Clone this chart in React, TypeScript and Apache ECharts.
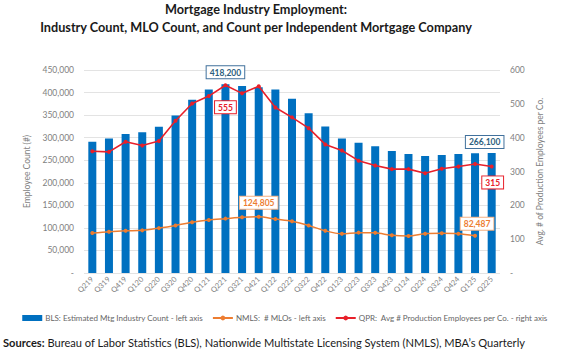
import React, { useEffect, useRef } from "react";
import * as echarts from "echarts";

const quarters = [
  "Q219", "Q319", "Q419", "Q120", "Q220", "Q320", "Q420", "Q121", "Q221", "Q321",
  "Q421", "Q122", "Q222", "Q322", "Q422", "Q123", "Q223", "Q323", "Q423", "Q124",
  "Q224", "Q324", "Q424", "Q125", "Q225",
];

// BLS: Estimated Mtg Industry Count (left axis)
const blsCount = [
  291000, 298000, 308000, 312000, 324000, 349000, 384000, 407000, 418200, 414500,
  411500, 407000, 386000, 354000, 325000, 298000, 289000, 281000, 270500, 264000,
  259500, 261500, 264000, 265500, 266100,
];

// NMLS: # MLOs (left axis)
const nmlsMlos = [
  88500, 91500, 93500, 94500, 99500, 105500, 112500, 117500, 120500, 123500,
  124805, 119500, 114500, 105500, 93500, 87000, 89500, 89000, 83500, 82000,
  87000, 88000, 87000, 82487,
];

// QPR: Avg # Production Employees per Co. (right axis)
const qprAvg = [
  360, 358, 388, 377, 390, 450, 501, 523, 555, 531,
  552, 489, 460, 428, 380, 362, 332, 318, 307, 307,
  295, 308, 315, 322, 315,
];

const leftTicks = { min: 0, max: 450000, interval: 50000 };
const rightTicks = { min: 0, max: 600, interval: 100 };

const FONT = "Lato";
const BLUE = "#0070c0";
const ORANGE = "#ed7d31";
const RED = "#e8202a";
const GRAY = "#7f7f7f";

const fmt = (v: number) => (v === 0 ? "-" : v.toLocaleString("en-US"));

export default function App() {
  const ref = useRef<HTMLDivElement>(null);

  useEffect(() => {
    if (!ref.current) return;
    const chart = echarts.init(ref.current, null, { renderer: "svg" });

    const boxLabel = (color: string, border: string, extra: any = {}) => ({
      show: true,
      formatter: (p: any) => fmt(p.value),
      color,
      fontFamily: FONT,
      fontWeight: "bold",
      fontSize: 8.5,
      backgroundColor: "#ffffff",
      borderColor: border,
      borderWidth: 1,
      padding: [2, 3, 1, 3],
      ...extra,
    });

    const barData = blsCount.map((v, i) => {
      if (i === 8)
        return { value: v, label: boxLabel("#2e5f80", "#41719c", { position: "top", distance: 6 }) };
      if (i === blsCount.length - 1)
        return {
          value: v,
          label: boxLabel("#2e5f80", "#41719c", { position: "top", distance: 5, offset: [-7, 0] }),
        };
      return v;
    });

    const maxNmlsIdx = nmlsMlos.indexOf(Math.max(...nmlsMlos));
    const nmlsData = nmlsMlos.map((v, i) => {
      if (i === maxNmlsIdx)
        return { value: v, label: boxLabel(ORANGE, "#f4b183", { position: "top", distance: 6 }) };
      if (i === nmlsMlos.length - 1)
        return {
          value: v,
          label: boxLabel(ORANGE, "#f4b183", { position: "top", distance: 4, offset: [2, 0] }),
        };
      return v;
    });

    const maxQprIdx = qprAvg.indexOf(Math.max(...qprAvg));
    const qprData = qprAvg.map((v, i) => {
      if (i === maxQprIdx)
        return { value: v, label: boxLabel(RED, RED, { position: "bottom", distance: 14 }) };
      if (i === qprAvg.length - 1)
        return { value: v, label: boxLabel(RED, RED, { position: "bottom", distance: 8, offset: [1, 0] }) };
      return v;
    });

    chart.setOption({
      animation: false,
      backgroundColor: "#ffffff",
      title: [
        {
          text: "Mortgage Industry Employment:\nIndustry Count, MLO Count, and Count per Independent Mortgage Company",
          left: 251,
          top: -5,
          textAlign: "center",
          textStyle: {
            fontFamily: FONT,
            fontWeight: "bold",
            fontSize: 12.7,
            lineHeight: 18,
            color: "#1a1a1a",
            align: "center",
          },
        },
        {
          text: "{b|Sources:} Bureau of Labor Statistics (BLS), Nationwide Multistate Licensing System (NMLS), MBA\u2019s Quarterly",
          left: 3,
          top: 337,
          padding: 0,
          textStyle: {
            fontFamily: FONT,
            fontSize: 11.1,
            color: "#1a1a1a",
            fontWeight: "normal",
            rich: {
              b: { fontFamily: FONT, fontSize: 11.1, fontWeight: "bold", color: "#1a1a1a" },
            },
          },
        },
      ],
      legend: {
        bottom: 23,
        left: "center",
        itemWidth: 20,
        itemHeight: 6,
        itemGap: 9,
        textStyle: { fontFamily: FONT, fontSize: 8, color: "#666666", padding: [0, 0, 0, -2] },
        data: [
          { name: "BLS: Estimated Mtg Industry Count - left axis", icon: "rect" },
          "NMLS:  # MLOs - left axis",
          "QPR:  Avg # Production Employees per Co. - right axis",
        ],
      },
      grid: { left: 84, right: 70, top: 70, bottom: 77 },
      xAxis: {
        type: "category",
        data: quarters,
        axisLine: { show: false },
        axisTick: { show: false },
        axisLabel: {
          rotate: 45,
          fontFamily: FONT,
          fontSize: 7.5,
          color: GRAY,
          margin: 5,
          interval: 0,
        },
      },
      yAxis: [
        {
          type: "value",
          ...leftTicks,
          name: "Employee Count (#)",
          nameLocation: "middle",
          nameGap: 44,
          nameTextStyle: { fontFamily: FONT, fontSize: 8.5, color: GRAY },
          axisLabel: { formatter: fmt, fontFamily: FONT, fontSize: 8.5, color: GRAY, margin: 10 },
          splitLine: { show: true, lineStyle: { color: "#e3e3e3", width: 1 } },
          axisLine: { show: false },
          axisTick: { show: false },
        },
        {
          type: "value",
          ...rightTicks,
          name: "Avg. # of Production Employees per Co.",
          nameLocation: "middle",
          nameGap: 32,
          nameRotate: 90,
          nameTextStyle: { fontFamily: FONT, fontSize: 8.5, color: GRAY },
          axisLabel: { formatter: fmt, fontFamily: FONT, fontSize: 8.5, color: GRAY, margin: 10 },
          splitLine: { show: false },
          axisLine: { show: false },
          axisTick: { show: false },
        },
      ],
      series: [
        {
          name: "BLS: Estimated Mtg Industry Count - left axis",
          type: "bar",
          yAxisIndex: 0,
          data: barData,
          barWidth: 8,
          itemStyle: { color: BLUE },
          z: 2,
        },
        {
          name: "NMLS:  # MLOs - left axis",
          type: "line",
          yAxisIndex: 0,
          data: nmlsData,
          smooth: 0.3,
          symbol: "circle",
          symbolSize: 4,
          lineStyle: { color: ORANGE, width: 1.5 },
          itemStyle: { color: ORANGE },
          z: 3,
        },
        {
          name: "QPR:  Avg # Production Employees per Co. - right axis",
          type: "line",
          yAxisIndex: 1,
          data: qprData,
          symbol: "circle",
          symbolSize: 4,
          lineStyle: { color: RED, width: 1.6 },
          itemStyle: { color: RED },
          z: 4,
        },
      ],
    });

    return () => chart.dispose();
  }, []);

  return (
    <div
      ref={ref}
      style={{ position: "fixed", left: 0, top: 0, width: 570, height: 350, background: "#fff" }}
    />
  );
}
